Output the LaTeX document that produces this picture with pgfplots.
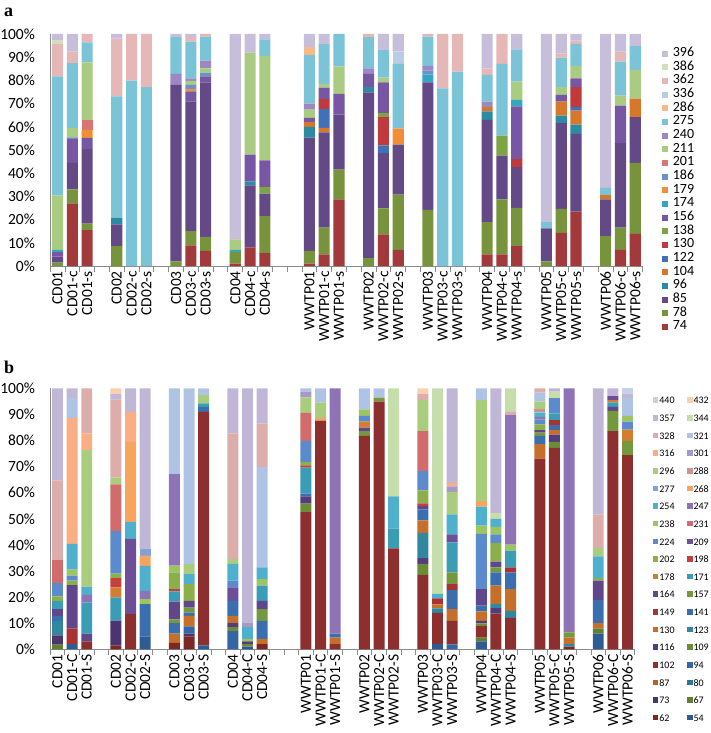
\documentclass[border=0pt]{standalone}
\usepackage{pgfplots}
\pgfplotsset{compat=1.18}
\usepackage{pgfplotstable}
\usepackage{fontspec}
\setmainfont{Carlito}
\newfontfamily\tnr{Liberation Serif}

\definecolor{axgray}{HTML}{8C8C8C}
% top panel colours
\definecolor{t74}{HTML}{A23A3C}
\definecolor{t78}{HTML}{77933C}
\definecolor{t85}{HTML}{634A87}
\definecolor{t96}{HTML}{2B8BA3}
\definecolor{t104}{HTML}{D7772B}
\definecolor{t122}{HTML}{3F71B8}
\definecolor{t130}{HTML}{C0393C}
\definecolor{t138}{HTML}{7EA543}
\definecolor{t156}{HTML}{7756A3}
\definecolor{t174}{HTML}{35A5C4}
\definecolor{t179}{HTML}{F28E33}
\definecolor{t186}{HTML}{6A92CF}
\definecolor{t201}{HTML}{D87676}
\definecolor{t211}{HTML}{AACC82}
\definecolor{t240}{HTML}{9C88C2}
\definecolor{t275}{HTML}{7BC3D7}
\definecolor{t286}{HTML}{F9B989}
\definecolor{t336}{HTML}{B7CCE6}
\definecolor{t362}{HTML}{E5B8B7}
\definecolor{t386}{HTML}{CFE1B8}
\definecolor{t396}{HTML}{C6BEDA}
% bottom panel colours
\definecolor{b54}{HTML}{2E5B94}
\definecolor{b62}{HTML}{7D2626}
\definecolor{b67}{HTML}{5F802E}
\definecolor{b73}{HTML}{4B346F}
\definecolor{b80}{HTML}{287A91}
\definecolor{b87}{HTML}{B36125}
\definecolor{b94}{HTML}{3565A5}
\definecolor{b102}{HTML}{8E2F2F}
\definecolor{b109}{HTML}{6B8D35}
\definecolor{b116}{HTML}{553C7C}
\definecolor{b123}{HTML}{2F88A0}
\definecolor{b130}{HTML}{C56F2A}
\definecolor{b141}{HTML}{3B6EAF}
\definecolor{b149}{HTML}{A93333}
\definecolor{b157}{HTML}{74983D}
\definecolor{b164}{HTML}{60468A}
\definecolor{b171}{HTML}{3B9CB6}
\definecolor{b178}{HTML}{D47C2F}
\definecolor{b198}{HTML}{C24040}
\definecolor{b202}{HTML}{8BB049}
\definecolor{b209}{HTML}{6C4F97}
\definecolor{b224}{HTML}{5B8BCC}
\definecolor{b231}{HTML}{D26C6C}
\definecolor{b238}{HTML}{9CC460}
\definecolor{b247}{HTML}{8F73B7}
\definecolor{b254}{HTML}{4EB0CC}
\definecolor{b268}{HTML}{F7A45F}
\definecolor{b277}{HTML}{80A2D7}
\definecolor{b288}{HTML}{CD9391}
\definecolor{b296}{HTML}{A9CC7D}
\definecolor{b301}{HTML}{A699C7}
\definecolor{b316}{HTML}{FAAE83}
\definecolor{b321}{HTML}{AFC3E4}
\definecolor{b328}{HTML}{DDADAC}
\definecolor{b344}{HTML}{C5DEAB}
\definecolor{b357}{HTML}{C0B7D7}
\definecolor{b432}{HTML}{FBD0B1}
\definecolor{b440}{HTML}{C6D1E7}

\pgfplotstableread{
x  s74 s78 s85 s96 s104 s122 s130 s138 s156 s174 s179 s186 s201 s211 s240 s275 s286 s336 s362 s386 s396
0  0 1.5 2.5 0 0 0 0 0 2.0 1.0 0 0 0 23.4 0 51.3 0 0 13.9 1.8 2.6
1  27 6 11.4 0 0 0 0 0 10.3 0 0 0.7 0 4.1 0 27.9 0 0 5 0 7.6
2  15.5 2.8 32.1 0 0 0 0 0 4.8 0 3.5 0 4.1 25 0 8.6 0 0 3.6 0 0
4  0 8.6 9.3 2.9 0 0 0 0 0 0 0 0 0 0 0 52.3 0 0 25 0 1.9
5  0 0 0 0 0 0 0 0 0 0 0 0 0 0 0 79.9 0 0 20.1 0 0
6  0 0 0 0 0 0 0 0 0 0 0 0 0 0 0 77.1 0 0 22.9 0 0
8  0 2 76.1 0 0 0 0 0 0 0 0 0 0 0 4.7 15.8 0 0 0 0 1.4
9  8.9 6.1 56 0 0 0 0 0 4.3 0 1.1 1.7 0 1.7 1.1 15.8 0 0 1.9 0 1.4
10 6.5 6.1 66.5 0 0 0 0 0 2.6 0 0 1.4 0 2.1 3.3 10.4 0 0 1.1 0 0
12 1 5 0 0 0 0 0 0 0 1 0 0 0 4.5 0 0 0 0 0 0 88.5
13 8 0 26.7 1.8 0 0 0 0 11.5 0 0 0 0 44 0 0 0 0 0 0 8
14 5.5 16 9.7 0 0 0 0 2.9 11.4 0 0 0 0 45 0 7.2 0 0 0 0 2.3
17 1 5.5 48.8 4.7 2.1 0 0 0 1.7 0 0 0 0 3.6 2.6 21 3.3 0 0 0 5.7
18 5 11.5 41.1 0 1.9 8.1 4.3 0 5 0 0 0 0 1.6 0 17.1 0 0 0 0 4.4
19 28.7 12.8 23.7 0 0 0 0 0 9 0 0 0 0 11.8 0 14 0 0 0 0 0
21 0 3.4 71.4 2.3 0 0 0 0 5.7 0 0 0 0 0 2.4 13.4 0 0 1.4 0 0
22 13.6 11.2 23.9 0 0 3.3 12.2 1.7 13.2 0 0 0 0 2.1 0 11.9 0 0 0 0 6.9
23 7 23.8 21.5 0 0 0 0 0 0 0 6.9 0 0 0 0 27.9 0 5.3 0 0 7.6
25 0 24.2 55 0 0 0 0 0 0 3.3 0 1.7 0 0 2.1 12.6 0 0 1.1 0 0
26 0 0 0 0 0 0 0 0 0 0 0 0 0 0 0 76.6 0 0 23.4 0 0
27 0 0 0 0 0 0 0 0 0 0 0 0 0 0 0 83.8 0 0 16.2 0 0
29 5 13.9 44.1 3.6 1.9 0 0 0 0 0 0 0 0 0 2.4 11.5 0 0 2.8 0 14.8
30 5 23.7 18.9 0 0 0 0 8.6 0 0 0 0 0 0 0 30.9 0 0 12.9 0 0
31 8.6 16.5 17.5 0 0 0 3.5 0 22.7 2.8 0 0 0 7.9 0 13.9 0 0 0 0 6.6
33 0 2 14.2 0 0 0 0 0 0 0 0 0 0 0 0 2.7 0 0 0 0 81.1
34 14.3 10.3 37 3.2 6.1 0 0 0 2.9 0 0 0 0 3.3 0 12.7 0 0 1.9 0 8.3
35 23.4 0 33.6 3.9 6.1 1.5 8.6 0 3.8 0 0 0 0 5.3 0 9.5 0 0 1.4 0 2.9
37 0 12.9 15.8 0 1.8 0 0 0 0 0 0 0 0 0 0 3.2 0 0 0 0 66.3
38 7 9.5 36.5 0 0 0 0 0 16.1 0 0 0 0 4.3 0 14.7 0 0 4.3 0 7.6
39 13.9 30.5 19.8 0 7.9 0 0 0 0 0 0 0 0 12.4 0 10.3 0 0 0 0 5.2
}\topdata

\pgfplotstableread{
x  s54 s62 s67 s73 s80 s87 s94 s102 s109 s116  s123 s130 s141 s149 s157 s164 s171 s178 s198 s202  s209 s224 s231 s238 s247 s254 s268 s277 s288 s296  s301 s316 s321 s328 s344 s357 s432 s440
0  0 0 1.8 3.5 0 0 0 0 0 0  5.5 0 2 0 0 2.6 3.2 0 0 1.7  0 5.1 9 0 0 0 0 0 0 0  0 0 0 30.3 0 35.3 0 0
1  2 0 0 0 0 0 0 0 0 0  0 0 0 6 0 16.6 0 0 0 1.7  0 1.9 0 2.3 0 9.9 0 0 0 0  0 48.3 7.5 0 0 3.8 0 0
2  0 0 0 0 0 0 0 3 0 0  0 0 0 0 0 3 11.9 0 0 0  0 0 0 0 3 3.1 0 0 0 52.3  0 6.4 0 17.3 0 0 0 0
4  0 1.5 0 9.5 0 0 0 0 0 0  0 0 0 0 0 0 8.9 3.8 3.6 1.7  0 16.3 17.9 0 0 0 0 0 0 2.6  0 0 0 29.9 0 2.1 2.2 0
5  0 0 0 0 0 0 0 13.5 0 0  0 0 0 0 0 0 0 0 0 0  28.8 0 0 0 0 6.4 30.8 0 0 0  0 11.5 0 0 0 9 0 0
6  5 0 0 0 0 0 0 0 0 0  0 0 12.3 0 0 0 0 0 0 0  0 0 0 1.9 3.2 9.6 3.9 2.6 0 0  0 0 0 0 0 61.5 0 0
8  0 2.5 0 0 0 0 0 0 0 0  0 3.5 4 0 1.5 6.8 3.9 0 0.9 6.4  0 0 0 2.6 35 0 0 0 0 0  0 0 32.9 0 0 0 0 0
9  0 5 0 1 0 0 2.8 0 0 0  0 4 1.3 0 1.9 2.6 0 0 0 6.4  0 0 0 0 0 3.8 0 0 0 3.9  0 0 67.3 0 0 0 0 0
10 1.5 0 0 0 0 0 0 89.5 0 0  0 0 1.9 0 0 0 1.3 0 0 0  0 0 0 0 0 0 0 0 0 3.2  0 0 2.6 0 0 0 0 0
12 0 0 0 0 0 0 7 0 1.5 1.5  0 2.8 5.8 0 0 0 0 0 0 0  5.1 2.6 0 0 0 6.4 0 0 0 1.9  0 0 0 48.1 0 17.3 0 0
13 1 0 0 0 0 0 0 0 1 1  0 0 0 0 0 0 0 0 0 0  0 0 0 1 0 4.5 0 0 0 0  1.5 0 0 0 0 90 0 0
14 0 2 0 0 0 0 0 0 0 0  0 2 6.9 0 4.5 3.2 5.8 0 0 0  0 0 0 2.5 0 4.5 0 0 0 0  0 0 38.5 16.6 0 13.5 0 0
17 0 0 0 0 0 0 0 52.6 3.2 2.8  0 0 1 0 0 0 10 0 0.9 1.3  0 8.1 10.7 0 0 0 0 0 0 5.9  2.2 0 1.3 0 0 0 0 0
18 0 0 0 0 0 0 0 87.6 0 0  0 0 0 0 0 0 0 0 0 0  0 0 0 0 0 0 1.1 0 0 5.9  0 0 5.4 0 0 0 0 0
19 0 0 0 0 0 0 0 2 0 0  0 2.5 1.5 0 0 0 0 0 0 0  0 0 0 0 94 0 0 0 0 0  0 0 0 0 0 0 0 0
21 0 0 0 0 0 0 0 81.8 0 0  0 0 0 0 1.8 1.3 0 2.3 0 0  0 2.2 0 2.5 0 0 0 0 0 0  0 0 8.1 0 0 0 0 0
22 0 0 0 0 0 0 0 94.9 0 0  0 0 0 0 1.5 0 0 0 0 0  0 0 0 0 0 0 0 0 0 0  0 0 3.6 0 0 0 0 0
23 0 0 0 0 0 0 0 38.7 0 0  0 0 0 0 0 0 7.5 0 0 0  0 0 0 0 0 12.4 0 0 0 0  0 0 0 0 41.4 0 0 0
25 0 0 0 0 0 0 0 28.5 4.2 2.2  9.7 4.8 4.2 0 0 1.3 0 0 1 5  0 7.4 15.3 0 0 0 0 0 0 11.9  0 0 0 2.3 0 0 2.2 0
26 2 0 0 0 0 0 0 12 0 0  1.7 1.5 0 2.3 0 0 0 0 0 0  0 0 0 0 0 1.7 0 0 0 0  0 0 0 0 78.8 0 0 0
27 0 0 0 0 0 0 1.9 9 0 0  0 4.5 7.3 2.3 4.5 0 11.5 0 0 0  3 0 0 0 0 7.7 0 0 0 8.6  2.1 1.3 0 0 0 36.3 0 0
29 3 0 1.5 0 0 0 0 4.4 1 1  0 3.6 2.2 0 0 6.4 0 0 0 0  0 21.1 0 3.2 0 7.3 2.1 0 0 38.7  0 0 4.5 0 0 0 0 0
30 0 0 0 0 0 0 0 13.7 0 2.1  1.5 7.1 5.1 0 1.9 2.2 0 0 0 7.2  0 3.2 0 2.9 0 3.1 0 0 0 0  0 0 0 0 2.2 47.8 0 0
31 0 0 0 0 0 0 0 12 0 0  2.7 8.4 6.4 1.9 0 0 6.4 0 0 0  0 0 0 2.3 49.6 0 0 0 0 0  0 0 0 1.3 9 0 0 0
33 0 0 0 0 0 0 0 73.1 0 0  0 5.5 3.2 0 1.2 1 0 0 0 2.2  0 1.9 0 0 1 1.7 0 0 1.3 2.8  0 0 3.4 1.7 0 0 0 0
34 0 0 0 0 0 0 0 77.2 2.3 2.8  0 1.7 1.9 1.9 0 0 2.6 0 0 0  0 5.8 0 0 0 0 0 0 0 0  0 0 0 0 2.5 1.3 0 0
35 0 1 0 0 0 0 0 0 0 0  1 2.5 0 0 2 0 0 0 0 0  0 0 0 0 93.5 0 0 0 0 0  0 0 0 0 0 0 0 0
37 6 0 2 0 0 0 0 0 0 0  0 2 8.8 0 0 7.5 0 0 0 1  0 0 0 0 0 8.3 0 0 0 3.2  0 0 0 12.9 0 48.3 0 0
38 0 0 0 0 0 0 0 83.6 0 0  0 0 0 0 7.8 1.5 1.7 0.9 0 0  1.5 0 0 0 0 0 0 0 0 0  0 0 0 0 0 3 0 0
39 0 0 0 0 0 0 0 74.4 0 0  0 0 0 0 5.5 0 0 4.3 0 0  0 3 0 2.2 0 0 0 0 0 0  0 0 6.8 0 0 1.9 0 1.9
}\botdata

\pgfplotsset{
  panel/.style={
    scale only axis, ybar stacked, bar width=0.75,
    xmin=-0.5, xmax=39.5, ymin=0, ymax=100,
    axis lines*=left,
    axis line style={draw=axgray, line width=0.8pt},
    tick style={draw=axgray, line width=0.8pt},
    major tick length=0pt, minor tick length=5.5pt, tick align=outside,
    xtick={0,1,2,4,5,6,8,9,10,12,13,14,17,18,19,21,22,23,25,26,27,29,30,31,33,34,35,37,38,39},
    minor xtick={-0.5,0.5,...,39.5},
    ytick={0,10,...,100},
    yticklabels={0\%,10\%,20\%,30\%,40\%,50\%,60\%,70\%,80\%,90\%,100\%},
    ticklabel style={font=\fontsize{15.5}{18}\selectfont, text=black},
    yticklabel style={anchor=east, inner sep=0pt, xshift=-15pt},
    xticklabel style={yshift=-5pt, rotate=90, anchor=east, inner sep=0pt},
    legend cell align=left, reverse legend,
  }
}

\begin{document}
\begin{tikzpicture}
\useasboundingbox (0pt,0pt) rectangle (710pt,-733pt);
\node[anchor=base west, inner sep=0pt] at (4pt,-16.5pt) {\tnr\bfseries\fontsize{18}{18}\selectfont a};
\node[anchor=base west, inner sep=0pt] at (4pt,-373.5pt) {\tnr\bfseries\fontsize{18}{18}\selectfont b};

\begin{axis}[panel,
  at={(50.1pt,-266pt)}, anchor=south west, width=592.6pt, height=232pt,
  xticklabels={CD01,CD01-c,CD01-s,CD02,CD02-c,CD02-s,CD03,CD03-c,CD03-s,CD04,CD04-c,CD04-s,WWTP01,WWTP01-c,WWTP01-s,WWTP02,WWTP02-c,WWTP02-s,WWTP03,WWTP03-c,WWTP03-s,WWTP04,WWTP04-c,WWTP04-s,WWTP05,WWTP05-c,WWTP05-s,WWTP06,WWTP06-c,WWTP06-s},
  legend image code/.code={\fill[#1] (0pt,-3pt) rectangle (6pt,3pt);},
  legend style={at={(axis description cs:1.032,0.946)}, anchor=north west,
    draw=none, fill=none, inner sep=0pt, column sep=5pt,
    font=\fontsize{14}{14}\selectfont,
    nodes={inner sep=0pt, text height=9.8pt, text depth=3.87pt}},
]
\pgfplotsinvokeforeach{74,78,85,96,104,122,130,138,156,174,179,186,201,211,240,275,286,336,362,386,396}{
  \addplot[fill=t#1, draw=none] table[x=x, y=s#1]{\topdata};
  \addlegendentry{#1}
}
\end{axis}

\begin{axis}[panel,
  at={(50.2pt,-649.3pt)}, anchor=south west, width=584.6pt, height=261pt,
  xticklabels={CD01,CD01-C,CD01-S,CD02,CD02-C,CD02-S,CD03,CD03-C,CD03-S,CD04,CD04-C,CD04-S,WWTP01,WWTP01-C,WWTP01-S,WWTP02,WWTP02-C,WWTP02-S,WWTP03,WWTP03-C,WWTP03-S,WWTP04,WWTP04-C,WWTP04-S,WWTP05,WWTP05-C,WWTP05-S,WWTP06,WWTP06-C,WWTP06-S},
  legend columns=2,
  legend image code/.code={\fill[#1] (0pt,-2.75pt) rectangle (5.5pt,2.75pt);},
  legend style={at={(axis description cs:1.0306,0.989)}, anchor=north west,
    draw=none, fill=none, inner sep=0pt, column sep=1pt,
    /tikz/every even column/.append style={column sep=12.5pt},
    font=\fontsize{10}{10}\selectfont,
    nodes={inner sep=0pt, text height=12.5pt, text depth=5.14pt}},
]
\pgfplotsinvokeforeach{54,62,67,73,80,87,94,102,109,116,123,130,141,149,157,164,171,178,198,202,209,224,231,238,247,254,268,277,288,296,301,316,321,328,344,357,432,440}{
  \addplot[fill=b#1, draw=none] table[x=x, y=s#1]{\botdata};
  \addlegendentry{#1}
}
\end{axis}
\end{tikzpicture}
\end{document}
